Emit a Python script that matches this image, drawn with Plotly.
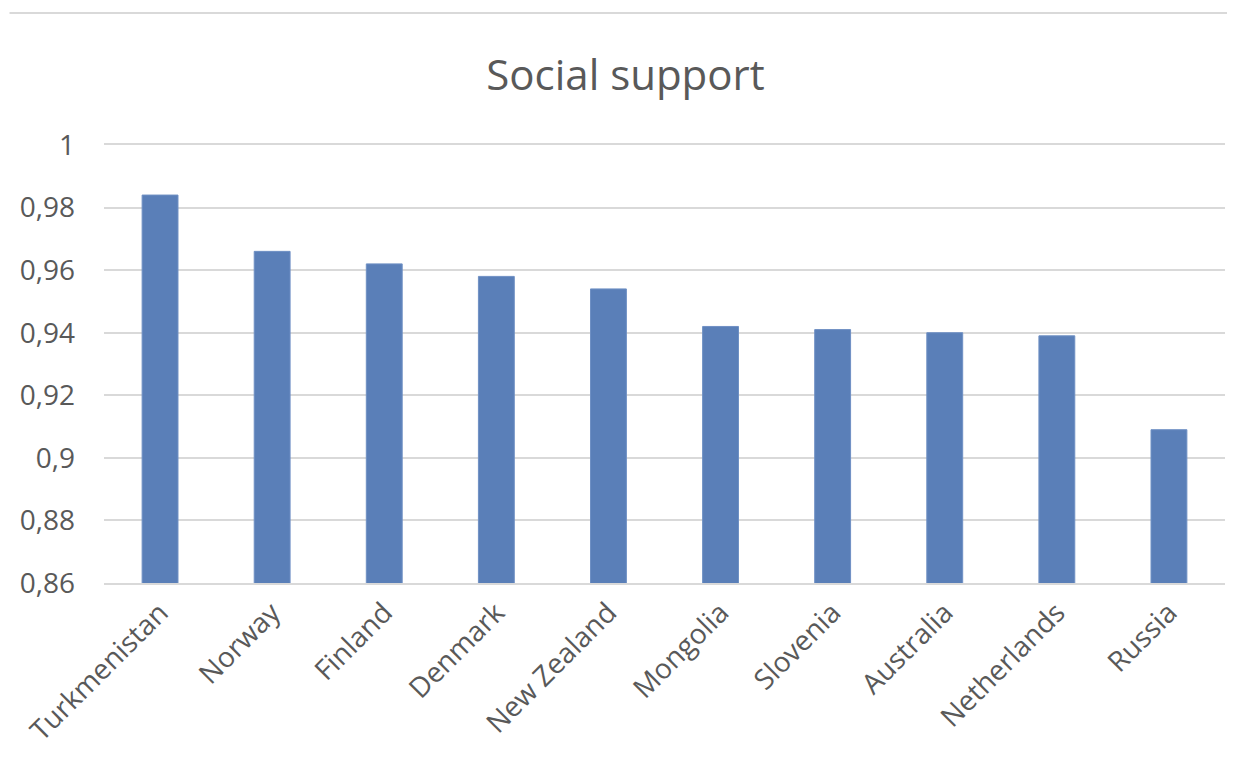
import plotly.graph_objects as go

countries = ["Turkmenistan", "Norway", "Finland", "Denmark", "New Zealand",
             "Mongolia", "Slovenia", "Australia", "Netherlands", "Russia"]
social_support = [0.984, 0.966, 0.962, 0.958, 0.954, 0.942, 0.941, 0.940, 0.939, 0.909]
tick_vals = [0.86, 0.88, 0.90, 0.92, 0.94, 0.96, 0.98, 1.0]
tick_text = ["0,86", "0,88", "0,9", "0,92", "0,94", "0,96", "0,98", "1"]

FONT = "Open Sans"
TXT = "#595959"

fig = go.Figure(go.Bar(
    x=countries, y=social_support,
    marker=dict(color="#5A7FB8", line=dict(color="#6F90C4", width=1)),
))

fig.update_layout(
    width=1235, height=774,
    margin=dict(l=90, r=18, t=137, b=199),
    paper_bgcolor="white", plot_bgcolor="white",
    bargap=0.68,
    showlegend=False,
    title=dict(text="Social support", x=0.5, xanchor="center", y=0.9134, yanchor="middle",
               font=dict(family=FONT, size=42, color=TXT)),
    font=dict(family=FONT, color=TXT),
    xaxis=dict(tickangle=-45, tickfont=dict(family=FONT, size=28, color=TXT),
               showgrid=False, showline=True, mirror=True, linecolor="#D9D9D9", linewidth=2,
               ticks="", ticklen=0),
    yaxis=dict(range=[0.86, 1.0], tickvals=tick_vals, ticktext=tick_text,
               tickfont=dict(family=FONT, size=28, color=TXT),
               showgrid=True, gridcolor="#D9D9D9", gridwidth=2,
               zeroline=False, showline=False, ticks="", ticklabelstandoff=28),
    shapes=[dict(type="line", xref="paper", yref="paper", x0=-0.0843, x1=1.0089,
                 y0=1.3014, y1=1.3014, line=dict(color="#D9D9D9", width=2))],
)

fig.write_html("out.html")
